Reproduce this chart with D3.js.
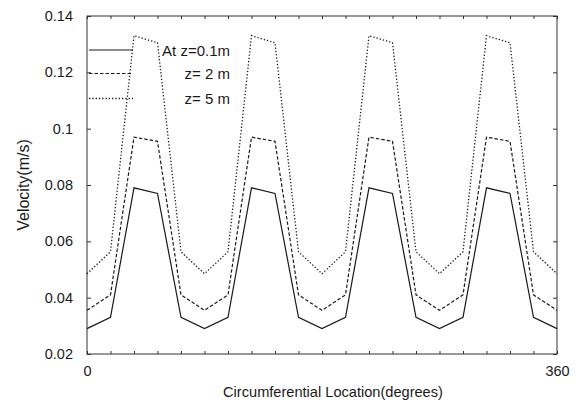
<!DOCTYPE html>
<html>
<head>
<meta charset="utf-8">
<script src="https://cdn.jsdelivr.net/npm/d3@7"></script>
<style>
  html, body { margin: 0; padding: 0; background: #fff; }
  svg { display: block; font-family: "Liberation Sans", Arial, Helvetica, sans-serif; }
</style>
</head>
<body>
<svg id="chart" width="579" height="402"></svg>
<script>
// ---- data ----
const angles = [0, 18, 36, 54, 72, 90, 108, 126, 144, 162, 180, 198, 216, 234, 252, 270, 288, 306, 324, 342, 360];
const z01 = [0.029, 0.033, 0.079, 0.077, 0.033, 0.029, 0.033, 0.079, 0.077, 0.033, 0.029, 0.033, 0.079, 0.077, 0.033, 0.029, 0.033, 0.079, 0.077, 0.033, 0.029];
const z2  = [0.0355, 0.041, 0.097, 0.0955, 0.041, 0.0355, 0.041, 0.097, 0.0955, 0.041, 0.0355, 0.041, 0.097, 0.0955, 0.041, 0.0355, 0.041, 0.097, 0.0955, 0.041, 0.0355];
const z5  = [0.0485, 0.0563, 0.133, 0.1305, 0.0563, 0.0485, 0.0563, 0.133, 0.1305, 0.0563, 0.0485, 0.0563, 0.133, 0.1305, 0.0563, 0.0485, 0.0563, 0.133, 0.1305, 0.0563, 0.0485];
const seriesNames = ["At z=0.1m", "z= 2 m", "z= 5 m"];
const yTicks = [0.02, 0.04, 0.06, 0.08, 0.1, 0.12, 0.14];
const yTickLabels = ["0.02", "0.04", "0.06", "0.08", "0.1", "0.12", "0.14"];
const xTicks = [0, 18, 36, 54, 72, 90, 108, 126, 144, 162, 180, 198, 216, 234, 252, 270, 288, 306, 324, 342, 360];
const xLabelled = [0, 360];
const xTitle = "Circumferential Location(degrees)";
const yTitle = "Velocity(m/s)";

// ---- layout ----
const svg = d3.select("#chart");
const L = 87, R = 557, T = 16, B = 354;
const x = d3.scaleLinear().domain([0, 360]).range([L, R]);
const y = d3.scaleLinear().domain([0.02, 0.14]).range([B, T]);
const ink = "#1a1a1a";
const dashes = [null, "3.5,2", "1.3,2"];
const widths = [1.2, 1.2, 1.3];
const seriesData = [z01, z2, z5];

// frame
svg.append("rect").attr("x", L).attr("y", T).attr("width", R - L).attr("height", B - T)
  .attr("fill", "none").attr("stroke", "#333").attr("stroke-width", 1);

// axes (ticks inward)
const fmtY = d => yTickLabels[yTicks.indexOf(d)];
const gL = svg.append("g").attr("transform", `translate(${L},0)`)
  .call(d3.axisLeft(y).tickValues(yTicks).tickSizeInner(-4).tickSizeOuter(0).tickPadding(14).tickFormat(fmtY));
const gR = svg.append("g").attr("transform", `translate(${R},0)`)
  .call(d3.axisRight(y).tickValues(yTicks).tickSizeInner(-4).tickSizeOuter(0).tickFormat(""));
const gB = svg.append("g").attr("transform", `translate(0,${B})`)
  .call(d3.axisBottom(x).tickValues(xTicks).tickSizeInner(-3).tickSizeOuter(0).tickPadding(12)
    .tickFormat(d => xLabelled.includes(d) ? String(d) : ""));
const gT = svg.append("g").attr("transform", `translate(0,${T})`)
  .call(d3.axisTop(x).tickValues(xTicks).tickSizeInner(-3).tickSizeOuter(0).tickFormat(""));

[gL, gR, gB, gT].forEach(g => {
  g.select(".domain").remove();
  g.selectAll(".tick line").attr("stroke", "#333").attr("stroke-width", 1);
  g.selectAll("text").attr("fill", ink).style("font-size", "14.5px");
});

// series
const line = d3.line().x((d, i) => x(angles[i])).y(d => y(d));
seriesData.forEach((s, k) => {
  svg.append("path").datum(s).attr("d", line)
    .attr("fill", "none").attr("stroke", ink).attr("stroke-width", widths[k])
    .attr("stroke-dasharray", dashes[k]);
});

// legend
const legY = [50, 73.5, 98.5];
seriesNames.forEach((name, k) => {
  svg.append("line").attr("x1", 89).attr("x2", 133).attr("y1", legY[k]).attr("y2", legY[k])
    .attr("stroke", ink).attr("stroke-width", widths[k]).attr("stroke-dasharray", dashes[k]);
  svg.append("text").attr("x", 230).attr("y", legY[k] + 5.5).attr("text-anchor", "end")
    .attr("fill", ink).style("font-size", "15px").text(name);
});

// titles
svg.append("text").attr("x", 333).attr("y", 397).attr("text-anchor", "middle")
  .attr("fill", ink).style("font-size", "14.6px").text(xTitle);
svg.append("text").attr("transform", "translate(29,185) rotate(-90)").attr("text-anchor", "middle")
  .attr("fill", ink).style("font-size", "16px").text(yTitle);
</script>
</body>
</html>
